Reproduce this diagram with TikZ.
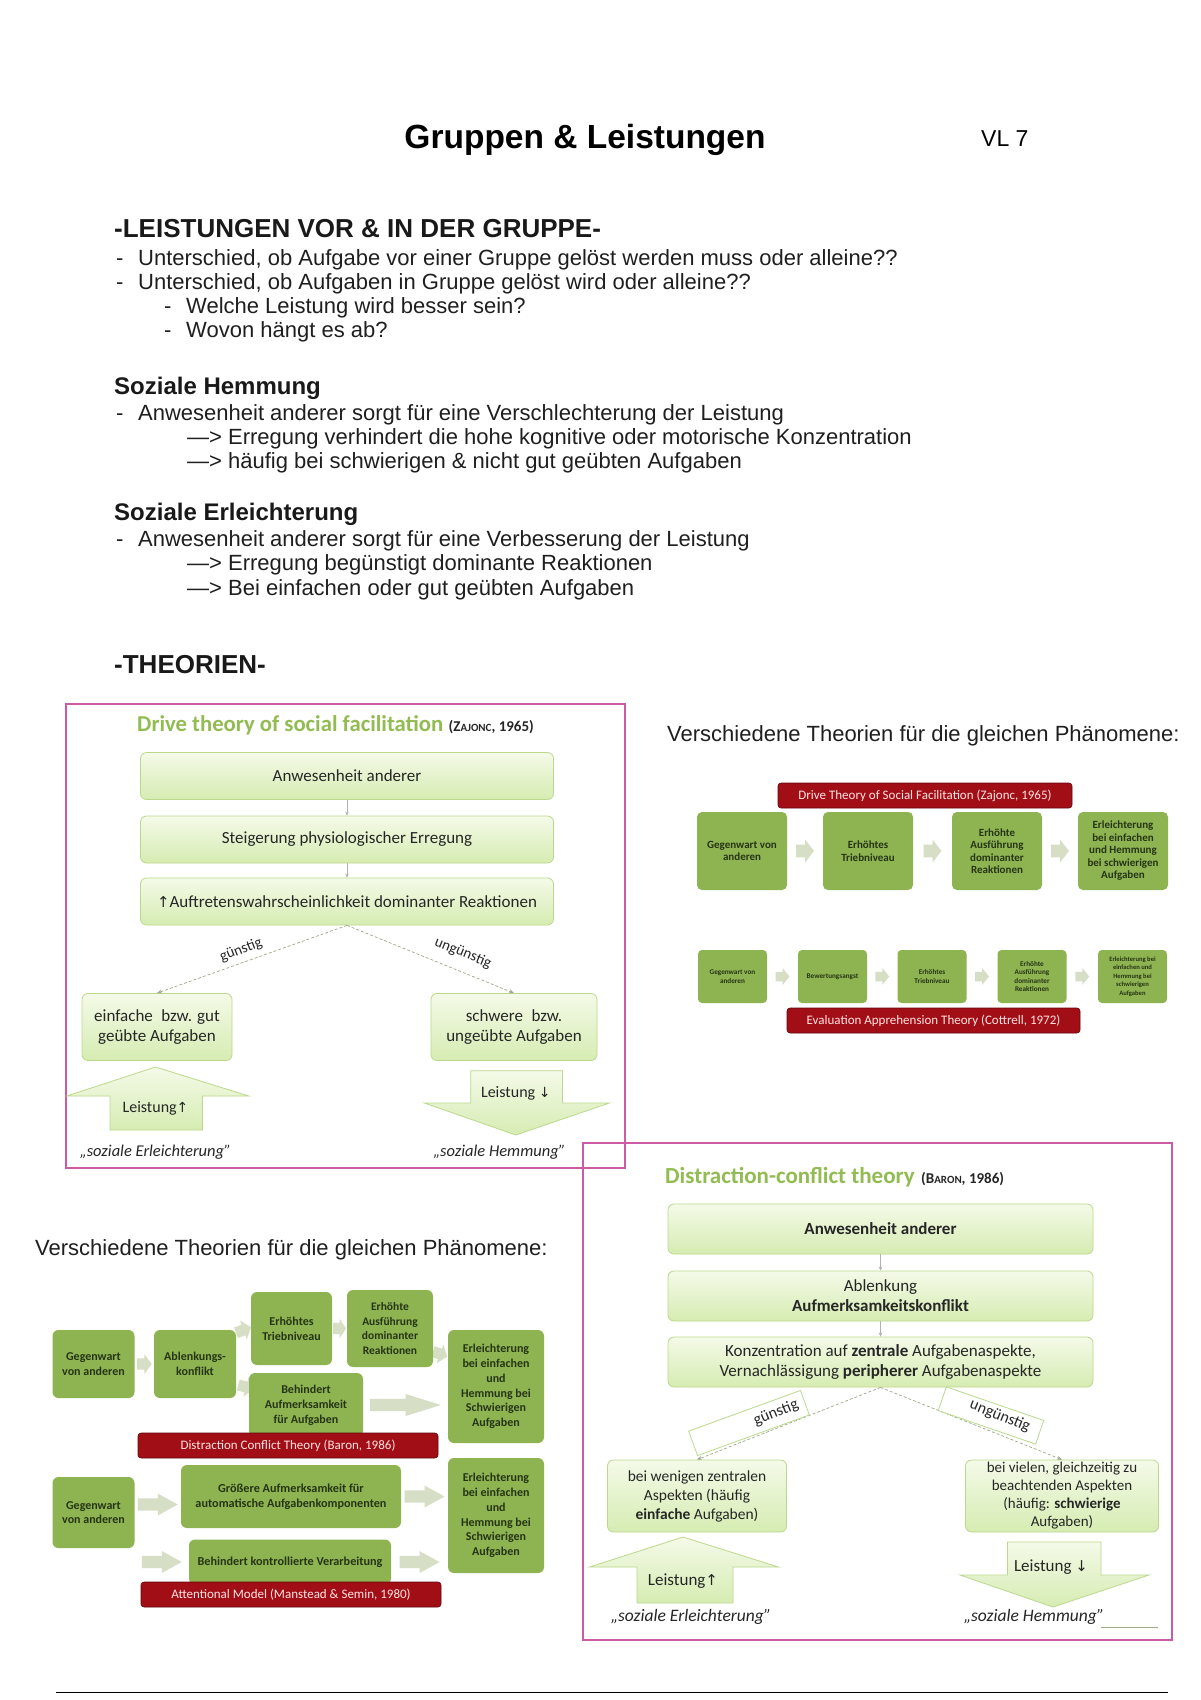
\documentclass[tikz,border=0pt]{standalone}
\usepackage{fontspec}
\setmainfont{Liberation Sans}
\newfontfamily\slide{Carlito}
\newfontfamily\symfont{DejaVu Sans}
\usetikzlibrary{arrows.meta,calc}
\definecolor{framec}{RGB}{205,90,165}
\definecolor{boxtop}{RGB}{244,250,232}
\definecolor{boxbot}{RGB}{214,236,178}
\definecolor{boxline}{RGB}{188,216,140}
\definecolor{titlegreen}{RGB}{146,188,82}
\definecolor{slidegreen}{RGB}{142,180,82}
\definecolor{slidetext}{RGB}{38,52,20}
\definecolor{labred}{RGB}{162,14,22}
\definecolor{labtext}{RGB}{255,228,228}
\definecolor{chevc}{RGB}{214,222,198}
\definecolor{branchc}{RGB}{158,168,138}
\newcommand\fsz[2]{\fontsize{#1}{#2}\selectfont}
\begin{document}
\begin{tikzpicture}[x=1pt,y=-1pt,
  noteline/.style={anchor=base west, inner sep=0pt, font=\fsz{22}{24}, text=black!88},
  notehead/.style={anchor=base west, inner sep=0pt, font=\bfseries\fsz{24}{26}, text=black!90},
  notebig/.style={anchor=base west, inner sep=0pt, font=\bfseries\fsz{26}{28}, text=black!90},
  lbox/.style={draw=boxline, line width=0.8pt, top color=boxtop, bottom color=boxbot, rounded corners=6pt, align=center, inner sep=1pt, text=black!85, font=\slide\fsz{17}{20}},
  gbox/.style={fill=slidegreen, rounded corners=5pt, align=center, inner sep=0pt, text=slidetext, font=\slide\bfseries\fsz{11}{12.5}},
  sbox/.style={gbox, rounded corners=4pt, font=\slide\bfseries\fsz{7.2}{8.6}},
  dbox/.style={gbox, rounded corners=6pt, font=\slide\bfseries\fsz{12}{14.8}},
  redlab/.style={fill=labred, draw=labred!60!black, line width=0.6pt, rounded corners=3pt, inner sep=0pt, text=labtext, font=\slide\fsz{13}{14}},
  mframe/.style={draw=framec, line width=1.5pt},
  flow/.style={draw=gray!60, line width=0.5pt, -{Stealth[length=4pt,width=3.5pt]}},
  branchline/.style={draw=branchc, line width=0.7pt, dash pattern=on 3pt off 2pt, -{Stealth[length=5pt,width=4pt]}},
  lbl/.style={font=\slide\fsz{15}{15}, text=black!85, inner sep=0pt},
  qtext/.style={font=\slide\itshape\fsz{16.5}{16.5}, text=black!85, inner sep=0pt},
  bigarrow/.style={draw=boxline, line width=0.8pt, top color=boxtop, bottom color=boxbot},
  tagbox/.style={draw=boxline, line width=0.8pt, fill=white, fill opacity=0.85},
  pics/chev/.style 2 args={code={\fill[chevc] (-#1/2,-0.28*#2) -- (0,-0.28*#2) -- (0,-0.5*#2) -- (#1/2,0) -- (0,0.5*#2) -- (0,0.28*#2) -- (-#1/2,0.28*#2) -- cycle;}},
]
\fill[white] (0,0) rectangle (1200,1700);
\useasboundingbox (0,0) rectangle (1200,1700);

% ---------- notes ----------
\node[anchor=base, inner sep=0pt, font=\bfseries\fsz{33.5}{36}] (title) at (585,148) {Gruppen \& Leistungen};
\node[anchor=base west, inner sep=0pt, font=\fsz{23}{24}] (vl) at (981,146) {VL 7};

\node[notebig] (h1) at (114,237) {-LEISTUNGEN VOR \& IN DER GRUPPE-};
\node[noteline] (b1d) at (116,265) {-};
\node[noteline] (b1) at (138,265) {Unterschied, ob Aufgabe vor einer Gruppe gelöst werden muss oder alleine??};
\node[noteline] (b2d) at (116,289) {-};
\node[noteline] (b2) at (138,289) {Unterschied, ob Aufgaben in Gruppe gelöst wird oder alleine??};
\node[noteline] (b3d) at (164,313) {-};
\node[noteline] (b3) at (186,313) {Welche Leistung wird besser sein?};
\node[noteline] (b4d) at (164,337) {-};
\node[noteline] (b4) at (186,337) {Wovon hängt es ab?};

\node[notehead] (h2) at (114,394) {Soziale Hemmung};
\node[noteline] (b5d) at (116,420) {-};
\node[noteline] (b5) at (138,420) {Anwesenheit anderer sorgt für eine Verschlechterung der Leistung};
\node[noteline] (b6) at (187,444) {—> Erregung verhindert die hohe kognitive oder motorische Konzentration};
\node[noteline] (b7) at (187,468) {—> häufig bei schwierigen \& nicht gut geübten Aufgaben};

\node[notehead] (h3) at (114,520) {Soziale Erleichterung};
\node[noteline] (b8d) at (116,546) {-};
\node[noteline] (b8) at (138,546) {Anwesenheit anderer sorgt für eine Verbesserung der Leistung};
\node[noteline] (b9) at (187,570) {—> Erregung begünstigt dominante Reaktionen};
\node[noteline] (b10) at (187,595) {—> Bei einfachen oder gut geübten Aufgaben};

\node[notebig] (h4) at (114,673) {-THEORIEN-};

% ---------- frames ----------
\draw[mframe] (66,704) rectangle (625,1168);
\draw[mframe] (583,1143) rectangle (1172,1640);

% ---------- drive theory ----------
\node[anchor=base west, inner sep=0pt, font=\slide\bfseries\fsz{22.7}{22.7}, text=titlegreen] (dtitle) at (137,731) {Drive theory of social facilitation};
\node[anchor=base west, inner sep=0pt, font=\slide\bfseries\fsz{15}{15}, text=black!85] (dcite) at ($(dtitle.base east)+(5,0)$) {(Z{\fsz{11}{11}AJONC}, 1965)};

\node[lbox, minimum width=413pt, minimum height=47pt] (d1) at (347,776) {Anwesenheit anderer};
\node[lbox, minimum width=413pt, minimum height=47pt] (d2) at (347,839.5) {Steigerung physiologischer Erregung};
\node[lbox, minimum width=413pt, minimum height=47pt] (d3) at (347,901.5) {{\symfont\fsz{15}{15}↑}Auftretenswahrscheinlichkeit dominanter Reaktionen};
\draw[flow] (d1) -- (d2);
\draw[flow] (d2) -- (d3);

\node[lbox, minimum width=150pt, minimum height=67pt] (dL) at (157,1027) {einfache\enspace bzw. gut\\geübte Aufgaben};
\node[lbox, minimum width=166pt, minimum height=67pt] (dR) at (514,1027) {schwere\enspace bzw.\\ungeübte Aufgaben};
\draw[branchline] (d3.south) -- (dL.north);
\draw[branchline] (d3.south) -- (dR.north);
\node[lbl, rotate=21] (dg) at (241,950) {günstig};
\node[lbl, rotate=-22] (du) at (463,953) {ungünstig};

\draw[bigarrow] (155.5,1067) -- (248.7,1096) -- (202.4,1096) -- (202.4,1130) -- (110,1130) -- (110,1096) -- (66.7,1096) -- cycle;
\node[lbl, font=\slide\fsz{16}{16}] (dup) at (155.5,1108) {Leistung{\symfont\fsz{14}{14}↑}};
\draw[bigarrow] (470.7,1070.7) -- (562.4,1070.7) -- (562.4,1103) -- (609.4,1103) -- (515.8,1135) -- (424.4,1103) -- (470.7,1103) -- cycle;
\node[lbl, font=\slide\fsz{16}{16}] (ddown) at (515.8,1093) {Leistung {\symfont\fsz{14}{14}↓}};
\node[qtext] (dq1) at (155.5,1152) {„soziale Erleichterung”};
\node[qtext] (dq2) at (499.5,1152) {„soziale Hemmung”};

% ---------- top right slide ----------
\node[noteline] (vt1) at (667,741) {Verschiedene Theorien für die gleichen Phänomene:};
\node[redlab, minimum width=294pt, minimum height=25pt] (lab1) at (925,795.5) {Drive Theory of Social Facilitation (Zajonc, 1965)};
\node[gbox, minimum width=90pt, minimum height=78pt] (ra) at (742,851) {Gegenwart von\\anderen};
\node[gbox, minimum width=90pt, minimum height=78pt] (rb) at (868,851) {Erhöhtes\\Triebniveau};
\node[gbox, minimum width=90pt, minimum height=78pt] (rc) at (997,851) {Erhöhte\\Ausführung\\dominanter\\Reaktionen};
\node[gbox, minimum width=90pt, minimum height=78pt] (rd) at (1123,851) {Erleichterung\\bei einfachen\\und Hemmung\\bei schwierigen\\Aufgaben};
\pic at ($(ra.east)!.5!(rb.west)$) {chev={18}{23}};
\pic at ($(rb.east)!.5!(rc.west)$) {chev={18}{23}};
\pic at ($(rc.east)!.5!(rd.west)$) {chev={18}{23}};

\node[sbox, minimum width=69pt, minimum height=53pt] (sa) at (732.5,976.5) {Gegenwart von\\anderen};
\node[sbox, minimum width=69pt, minimum height=53pt] (sb) at (832.5,976.5) {Bewertungsangst};
\node[sbox, minimum width=69pt, minimum height=53pt] (sc) at (932,976.5) {Erhöhtes\\Triebniveau};
\node[sbox, minimum width=69pt, minimum height=53pt] (sd) at (1032,976.5) {Erhöhte\\Ausführung\\dominanter\\Reaktionen};
\node[sbox, minimum width=69pt, minimum height=53pt, font=\slide\bfseries\fsz{6.6}{8.4}] (se) at (1132.5,976.5) {Erleichterung bei\\einfachen und\\Hemmung bei\\schwierigen\\Aufgaben};
\pic at ($(sa.east)!.5!(sb.west)$) {chev={14}{17}};
\pic at ($(sb.east)!.5!(sc.west)$) {chev={14}{17}};
\pic at ($(sc.east)!.5!(sd.west)$) {chev={14}{17}};
\pic at ($(sd.east)!.5!(se.west)$) {chev={14}{17}};
\node[redlab, minimum width=293pt, minimum height=25pt] (lab2) at (933.5,1020.5) {Evaluation Apprehension Theory (Cottrell, 1972)};

% ---------- bottom left slide ----------
\node[noteline] (vt2) at (35,1255) {Verschiedene Theorien für die gleichen Phänomene:};
\coordinate (ca1) at (243.5,1330);
\coordinate (ca2) at (246,1387);
\coordinate (ce1) at (440,1354);
\pic[rotate=20] at (ca1) {chev={16}{20}};
\pic[rotate=-15] at (ca2) {chev={16}{20}};
\pic[rotate=-20] at (ce1) {chev={15}{20}};

\node[dbox, minimum width=82pt, minimum height=68pt] (g1) at (93.5,1364) {Gegenwart\\von anderen};
\node[dbox, minimum width=82pt, minimum height=68pt] (a1) at (195,1364) {Ablenkungs-\\konflikt};
\node[dbox, minimum width=81pt, minimum height=73pt] (t1) at (291.5,1328.5) {Erhöhtes\\Triebniveau};
\node[dbox, minimum width=86pt, minimum height=77pt, font=\slide\bfseries\fsz{11.5}{14.5}] (e1) at (390,1328.5) {Erhöhte\\Ausführung\\dominanter\\Reaktionen};
\node[dbox, minimum width=114pt, minimum height=64pt] (bb) at (306,1405) {Behindert\\Aufmerksamkeit\\für Aufgaben};
\node[dbox, minimum width=96pt, minimum height=113pt] (r1) at (496,1386.5) {Erleichterung\\bei einfachen\\und\\Hemmung bei\\Schwierigen\\Aufgaben};
\pic at ($(g1.east)!.5!(a1.west)$) {chev={15}{20}};
\pic at ($(t1.east)!.5!(e1.west)$) {chev={13}{20}};
\pic at ($(bb.east)!.5!(r1.west |- bb.east)$) {chev={71}{22}};
\node[redlab, minimum width=300pt, minimum height=25pt] (lab3) at (288,1445.5) {Distraction Conflict Theory (Baron, 1986)};

\node[dbox, minimum width=82pt, minimum height=71pt] (g2) at (93.5,1512.5) {Gegenwart\\von anderen};
\node[dbox, minimum width=220pt, minimum height=63pt, font=\slide\bfseries\fsz{12.2}{15}] (gr) at (291,1496.5) {Größere Aufmerksamkeit für\\automatische Aufgabenkomponenten};
\node[dbox, minimum width=202pt, minimum height=45pt, font=\slide\bfseries\fsz{12.2}{15}] (bk) at (290,1562) {Behindert kontrollierte Verarbeitung};
\node[dbox, minimum width=96pt, minimum height=115pt] (r2) at (496,1515.5) {Erleichterung\\bei einfachen\\und\\Hemmung bei\\Schwierigen\\Aufgaben};
\pic at ($(g2.east)!.5!(gr.west)$) {chev={40}{22}};
\pic at ($(g2.east |- bk.west)!.5!(bk.west)$) {chev={40}{22}};
\pic at ($(gr.east)!.5!(r2.west |- gr.east)$) {chev={40}{22}};
\pic at ($(bk.east)!.5!(r2.west |- bk.east)$) {chev={40}{22}};
\node[redlab, minimum width=300pt, minimum height=25pt] (lab4) at (291,1594.5) {Attentional Model (Manstead \& Semin, 1980)};

% ---------- distraction-conflict theory ----------
\node[anchor=base west, inner sep=0pt, font=\slide\bfseries\fsz{23}{23}, text=titlegreen] (ctitle) at (665,1183) {Distraction-conflict theory};
\node[anchor=base west, inner sep=0pt, font=\slide\bfseries\fsz{15}{15}, text=black!85] (ccite) at ($(ctitle.base east)+(6,0)$) {(B{\fsz{11}{11}ARON}, 1986)};

\node[lbox, minimum width=425pt, minimum height=50pt, font=\slide\bfseries\fsz{17}{20}] (c1) at (880.5,1229) {Anwesenheit anderer};
\node[lbox, minimum width=425pt, minimum height=50pt, font=\slide\fsz{17}{20}] (c2) at (880.5,1296) {Ablenkung\\\textbf{Aufmerksamkeitskonflikt}};
\node[lbox, minimum width=425pt, minimum height=50pt, font=\slide\fsz{17}{19.5}] (c3) at (880.5,1362) {Konzentration auf \textbf{zentrale} Aufgabenaspekte,\\Vernachlässigung \textbf{peripherer} Aufgabenaspekte};
\draw[flow] (c1) -- (c2);
\draw[flow] (c2) -- (c3);

\node[lbox, minimum width=179pt, minimum height=72pt, font=\slide\fsz{15.5}{19}] (cL) at (697,1496) {bei wenigen zentralen\\Aspekten (häufig\\\textbf{einfache} Aufgaben)};
\node[lbox, minimum width=193pt, minimum height=72pt, font=\slide\fsz{15}{18}] (cR) at (1062,1496) {bei vielen, gleichzeitig zu\\beachtenden Aspekten\\(häufig: \textbf{schwierige}\\Aufgaben)};
\draw[branchline] (c3.south) -- (cL.north);
\draw[branchline] (c3.south) -- (cR.north);
\draw[tagbox, rotate around={20:(749,1423)}] (689.5,1410) rectangle (808.5,1436);
\draw[tagbox, rotate around={-19:(991,1415.5)}] (939.5,1403) rectangle (1042.5,1428);
\node[lbl, font=\slide\fsz{16}{16}, rotate=22] (cg) at (776,1413) {günstig};
\node[lbl, font=\slide\fsz{16}{16}, rotate=-22] (cu) at (1000,1416) {ungünstig};

\draw[bigarrow] (683,1537) -- (778.5,1567) -- (733,1567) -- (733,1603) -- (637,1603) -- (637,1567) -- (589.5,1567) -- cycle;
\node[lbl, font=\slide\fsz{17}{17}] (cup) at (683,1581) {Leistung{\symfont\fsz{15}{15}↑}};
\draw[bigarrow] (1007.5,1542) -- (1101,1542) -- (1101,1575) -- (1149,1575) -- (1053,1607) -- (960,1575) -- (1007.5,1575) -- cycle;
\node[lbl, font=\slide\fsz{17}{17}] (cdown) at (1051,1567) {Leistung {\symfont\fsz{15}{15}↓}};
\node[qtext, font=\slide\itshape\fsz{17.5}{17.5}] (cq1) at (691,1617) {„soziale Erleichterung”};
\node[qtext, font=\slide\itshape\fsz{17.5}{17.5}] (cq2) at (1034,1617) {„soziale Hemmung”};
\coordinate (ul1) at (1101,1627);
\coordinate (ul2) at (1158,1627);
\draw[draw=branchc, line width=1pt] (ul1) -- (ul2);

% ---------- bottom rule ----------
\coordinate (bl1) at (56,1692);
\coordinate (bl2) at (1168,1692);
\draw[black, line width=1pt] (bl1) -- (bl2);
\end{tikzpicture}
\end{document}
